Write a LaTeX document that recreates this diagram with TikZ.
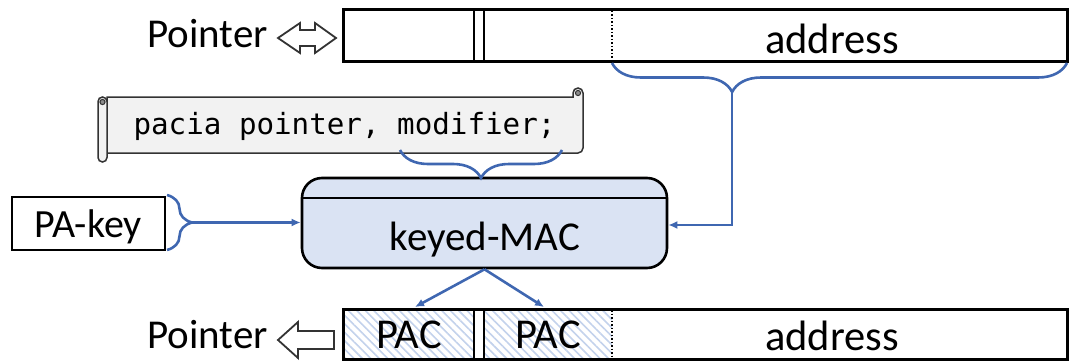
\documentclass[tikz,border=0pt]{standalone}
\usepackage{fontspec}
\setmainfont{Carlito}
\newfontfamily\codefont{DejaVu Sans Mono}
\usetikzlibrary{arrows.meta,decorations.pathreplacing,patterns.meta}
\definecolor{lnblue}{HTML}{3F67B1}
\definecolor{macfill}{HTML}{DAE3F3}
\definecolor{scrollfill}{HTML}{F2F2F2}
\definecolor{hatchblue}{HTML}{C3D2EC}
\begin{document}
\begin{tikzpicture}[x=1pt,y=-1pt,
  bar/.style={line width=3pt,draw=black},
  sep/.style={line width=2.4pt,draw=black},
  dots/.style={line width=1.8pt,dash pattern=on 1.5pt off 2pt,draw=black},
  conn/.style={line width=2.6pt,draw=lnblue,-{Latex[length=9pt,width=8pt]}},
  bracepath/.style={line width=2.6pt,draw=lnblue,decorate},
  lbl/.style={font=\fontsize{41}{44}\selectfont,inner sep=0pt,anchor=base},
  hollow/.style={line width=1.8pt,draw=black!80,fill=white,line join=miter},
  hatch/.style={pattern={Lines[angle=-45,distance=6pt,line width=1.6pt]},pattern color=hatchblue}
]
\useasboundingbox (0,0) rectangle (1071,361);

% ---------- top pointer ----------
\draw[bar] (343,10) rectangle (1067,62);
\draw[sep] (474,10) -- (474,62) (484,10) -- (484,62);
\draw[dots] (612,11) -- (612,61);
\node[lbl,font=\fontsize{42.5}{45}\selectfont] (addrtop) at (832,54) {address};
\node[lbl,anchor=base east] (ptrtop) at (268,48) {Pointer};
\draw[hollow] (278,38) -- (300,23) -- (300,30) -- (315,30) -- (315,23) -- (336,38)
  -- (315,53) -- (315,46) -- (300,46) -- (300,53) -- cycle;

% ---------- bottom pointer ----------
\fill[white] (343,309) rectangle (612,359);
\fill[hatch] (343,309) rectangle (474,359);
\fill[hatch] (484,309) rectangle (612,359);
\draw[bar] (343,309) rectangle (1067,359);
\draw[sep] (474,309) -- (474,359) (484,309) -- (484,359);
\draw[dots] (612,310) -- (612,358);
\node[lbl,font=\fontsize{42.5}{45}\selectfont] (pac1) at (409,348) {PAC};
\node[lbl,font=\fontsize{42.5}{45}\selectfont] (pac2) at (548,348) {PAC};
\node[lbl,font=\fontsize{42.5}{45}\selectfont] (addrbot) at (832,350) {address};
\node[lbl,anchor=base east] (ptrbot) at (268,348) {Pointer};
\draw[hollow] (278,340) -- (298,322) -- (298,331) -- (334,331) -- (334,349)
  -- (298,349) -- (298,358) -- cycle;

% ---------- scroll ----------
\begin{scope}[line width=1.5pt]
\filldraw[fill=scrollfill,draw=black!80] (107,97) -- (573,97) -- (573,93)
  arc[start angle=180,end angle=360,radius=5] -- (583,148)
  arc[start angle=0,end angle=90,radius=5] -- (107,153) -- cycle;
\filldraw[fill=black!45,draw=black!80,line width=1pt] (578,93) circle[radius=2.6];
\filldraw[fill=scrollfill,draw=black!80,rounded corners=4.5pt] (98,97) rectangle (107,162);
\filldraw[fill=black!45,draw=black!80,line width=1pt] (102.5,102) circle[radius=2.6];
\end{scope}
\node[inner sep=0pt,anchor=base,font=\codefont\fontsize{29.2}{31}\selectfont] (code) at (344.5,134) {pacia pointer, modifier;};

% ---------- keyed-MAC ----------
\node[draw=black,line width=2.6pt,fill=macfill,rounded corners=20pt,
  minimum width=365pt,minimum height=90pt,inner sep=0pt] (mac) at (484.5,223) {};
\draw[line width=2.4pt] (mac.west |- 0,198) -- (mac.east |- 0,198);
\node[lbl] (mactext) at (485,250) {keyed-MAC};

% ---------- PA-key ----------
\node[draw=black,line width=2.6pt,minimum width=153pt,minimum height=53pt,inner sep=0pt] (pakey) at (88.5,223.5) {};
\node[lbl,font=\fontsize{40}{42}\selectfont] (pakeytext) at (88,237) {PA-key};

% ---------- braces and connectors ----------
\coordinate (addrL) at (612,63);
\coordinate (addrR) at (1067,63);
\coordinate (addrTip) at (732,92);
\draw[bracepath,decoration={brace,amplitude=29pt,aspect=0.736}] (addrR) -- (addrL);
\coordinate (macIn) at (mac.east |- 0,225);
\draw[conn] (addrTip) |- (macIn);

\coordinate (modL) at (400,150);
\coordinate (modR) at (562,150);
\draw[bracepath,decoration={brace,amplitude=28pt}] (modR) -- (modL);

\coordinate (keyT) at (167,195);
\coordinate (keyB) at (167,250);
\coordinate (keyTip) at (192,222.5);
\draw[bracepath,decoration={brace,amplitude=25pt}] (keyT) -- (keyB);
\draw[conn] (keyTip) -- (mac.west |- keyTip);

\coordinate (pacIn1) at (415,307);
\coordinate (pacIn2) at (544,307);
\draw[conn] (mac.south) -- (pacIn1);
\draw[conn] (mac.south) -- (pacIn2);
\end{tikzpicture}
\end{document}
